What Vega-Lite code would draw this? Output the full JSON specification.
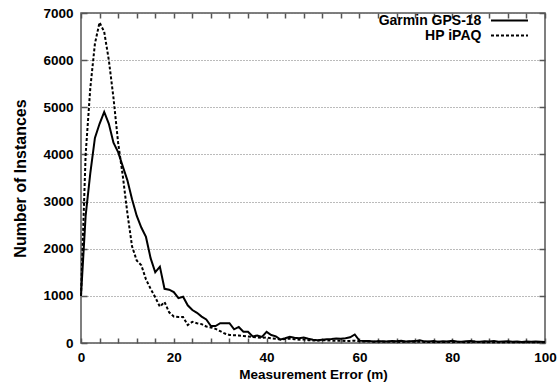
{
  "$schema": "https://vega.github.io/schema/vega-lite/v6.json",
  "width": 464,
  "height": 330,
  "autosize": "none",
  "padding": {"left": 81, "top": 13, "right": 14, "bottom": 47},
  "config": {
    "view": {"stroke": "#555555", "strokeWidth": 1.5},
    "font": "Liberation Sans",
    "axis": {
      "labelFont": "Liberation Sans",
      "labelFontWeight": "bold",
      "labelFontSize": 13.5,
      "labelColor": "#000000",
      "labelFlush": false,
      "titleFont": "Liberation Sans",
      "titleFontWeight": "bold",
      "titleFontSize": 13.5,
      "titleColor": "#000000",
      "domain": false,
      "ticks": true,
      "tickColor": "#555555",
      "tickWidth": 1.5
    },
    "legend": {
      "labelFont": "Liberation Sans",
      "labelFontWeight": "bold",
      "labelFontSize": 14,
      "labelColor": "#000000"
    }
  },
  "data": {
    "values": [
      {"x":0,"n":1000,"s":"Garmin GPS-18"},{"x":1,"n":2700,"s":"Garmin GPS-18"},{"x":2,"n":3600,"s":"Garmin GPS-18"},{"x":3,"n":4350,"s":"Garmin GPS-18"},{"x":4,"n":4650,"s":"Garmin GPS-18"},{"x":5,"n":4900,"s":"Garmin GPS-18"},{"x":6,"n":4650,"s":"Garmin GPS-18"},{"x":7,"n":4250,"s":"Garmin GPS-18"},{"x":8,"n":4050,"s":"Garmin GPS-18"},{"x":9,"n":3750,"s":"Garmin GPS-18"},
      {"x":10,"n":3450,"s":"Garmin GPS-18"},{"x":11,"n":3050,"s":"Garmin GPS-18"},{"x":12,"n":2700,"s":"Garmin GPS-18"},{"x":13,"n":2450,"s":"Garmin GPS-18"},{"x":14,"n":2250,"s":"Garmin GPS-18"},{"x":15,"n":1800,"s":"Garmin GPS-18"},{"x":16,"n":1500,"s":"Garmin GPS-18"},{"x":17,"n":1620,"s":"Garmin GPS-18"},{"x":18,"n":1150,"s":"Garmin GPS-18"},{"x":19,"n":1130,"s":"Garmin GPS-18"},
      {"x":20,"n":1080,"s":"Garmin GPS-18"},{"x":21,"n":950,"s":"Garmin GPS-18"},{"x":22,"n":980,"s":"Garmin GPS-18"},{"x":23,"n":800,"s":"Garmin GPS-18"},{"x":24,"n":700,"s":"Garmin GPS-18"},{"x":25,"n":640,"s":"Garmin GPS-18"},{"x":26,"n":560,"s":"Garmin GPS-18"},{"x":27,"n":500,"s":"Garmin GPS-18"},{"x":28,"n":360,"s":"Garmin GPS-18"},{"x":29,"n":360,"s":"Garmin GPS-18"},
      {"x":30,"n":420,"s":"Garmin GPS-18"},{"x":31,"n":420,"s":"Garmin GPS-18"},{"x":32,"n":420,"s":"Garmin GPS-18"},{"x":33,"n":290,"s":"Garmin GPS-18"},{"x":34,"n":340,"s":"Garmin GPS-18"},{"x":35,"n":240,"s":"Garmin GPS-18"},{"x":36,"n":240,"s":"Garmin GPS-18"},{"x":37,"n":140,"s":"Garmin GPS-18"},{"x":38,"n":160,"s":"Garmin GPS-18"},{"x":39,"n":130,"s":"Garmin GPS-18"},
      {"x":40,"n":235,"s":"Garmin GPS-18"},{"x":41,"n":170,"s":"Garmin GPS-18"},{"x":42,"n":140,"s":"Garmin GPS-18"},{"x":43,"n":75,"s":"Garmin GPS-18"},{"x":44,"n":100,"s":"Garmin GPS-18"},{"x":45,"n":130,"s":"Garmin GPS-18"},{"x":46,"n":110,"s":"Garmin GPS-18"},{"x":47,"n":100,"s":"Garmin GPS-18"},{"x":48,"n":115,"s":"Garmin GPS-18"},{"x":49,"n":90,"s":"Garmin GPS-18"},
      {"x":50,"n":70,"s":"Garmin GPS-18"},{"x":51,"n":60,"s":"Garmin GPS-18"},{"x":52,"n":70,"s":"Garmin GPS-18"},{"x":53,"n":80,"s":"Garmin GPS-18"},{"x":54,"n":85,"s":"Garmin GPS-18"},{"x":55,"n":95,"s":"Garmin GPS-18"},{"x":56,"n":90,"s":"Garmin GPS-18"},{"x":57,"n":100,"s":"Garmin GPS-18"},{"x":58,"n":120,"s":"Garmin GPS-18"},{"x":59,"n":180,"s":"Garmin GPS-18"},
      {"x":60,"n":50,"s":"Garmin GPS-18"},{"x":61,"n":40,"s":"Garmin GPS-18"},{"x":62,"n":45,"s":"Garmin GPS-18"},{"x":63,"n":30,"s":"Garmin GPS-18"},{"x":64,"n":35,"s":"Garmin GPS-18"},{"x":65,"n":35,"s":"Garmin GPS-18"},{"x":66,"n":30,"s":"Garmin GPS-18"},{"x":67,"n":40,"s":"Garmin GPS-18"},{"x":68,"n":35,"s":"Garmin GPS-18"},{"x":69,"n":45,"s":"Garmin GPS-18"},
      {"x":70,"n":30,"s":"Garmin GPS-18"},{"x":71,"n":35,"s":"Garmin GPS-18"},{"x":72,"n":40,"s":"Garmin GPS-18"},{"x":73,"n":60,"s":"Garmin GPS-18"},{"x":74,"n":35,"s":"Garmin GPS-18"},{"x":75,"n":30,"s":"Garmin GPS-18"},{"x":76,"n":40,"s":"Garmin GPS-18"},{"x":77,"n":25,"s":"Garmin GPS-18"},{"x":78,"n":35,"s":"Garmin GPS-18"},{"x":79,"n":30,"s":"Garmin GPS-18"},
      {"x":80,"n":45,"s":"Garmin GPS-18"},{"x":81,"n":30,"s":"Garmin GPS-18"},{"x":82,"n":25,"s":"Garmin GPS-18"},{"x":83,"n":35,"s":"Garmin GPS-18"},{"x":84,"n":40,"s":"Garmin GPS-18"},{"x":85,"n":30,"s":"Garmin GPS-18"},{"x":86,"n":25,"s":"Garmin GPS-18"},{"x":87,"n":35,"s":"Garmin GPS-18"},{"x":88,"n":30,"s":"Garmin GPS-18"},{"x":89,"n":40,"s":"Garmin GPS-18"},
      {"x":90,"n":25,"s":"Garmin GPS-18"},{"x":91,"n":30,"s":"Garmin GPS-18"},{"x":92,"n":35,"s":"Garmin GPS-18"},{"x":93,"n":25,"s":"Garmin GPS-18"},{"x":94,"n":30,"s":"Garmin GPS-18"},{"x":95,"n":20,"s":"Garmin GPS-18"},{"x":96,"n":30,"s":"Garmin GPS-18"},{"x":97,"n":25,"s":"Garmin GPS-18"},{"x":98,"n":30,"s":"Garmin GPS-18"},{"x":99,"n":25,"s":"Garmin GPS-18"},
      {"x":100,"n":20,"s":"Garmin GPS-18"},
      {"x":0,"n":1000,"s":"HP iPAQ"},{"x":1,"n":4000,"s":"HP iPAQ"},{"x":2,"n":5400,"s":"HP iPAQ"},{"x":3,"n":6350,"s":"HP iPAQ"},{"x":4,"n":6800,"s":"HP iPAQ"},{"x":5,"n":6600,"s":"HP iPAQ"},{"x":6,"n":6000,"s":"HP iPAQ"},{"x":7,"n":5200,"s":"HP iPAQ"},{"x":8,"n":4250,"s":"HP iPAQ"},{"x":9,"n":3550,"s":"HP iPAQ"},
      {"x":10,"n":2750,"s":"HP iPAQ"},{"x":11,"n":2050,"s":"HP iPAQ"},{"x":12,"n":1750,"s":"HP iPAQ"},{"x":13,"n":1650,"s":"HP iPAQ"},{"x":14,"n":1350,"s":"HP iPAQ"},{"x":15,"n":1150,"s":"HP iPAQ"},{"x":16,"n":970,"s":"HP iPAQ"},{"x":17,"n":770,"s":"HP iPAQ"},{"x":18,"n":870,"s":"HP iPAQ"},{"x":19,"n":650,"s":"HP iPAQ"},
      {"x":20,"n":560,"s":"HP iPAQ"},{"x":21,"n":550,"s":"HP iPAQ"},{"x":22,"n":550,"s":"HP iPAQ"},{"x":23,"n":380,"s":"HP iPAQ"},{"x":24,"n":450,"s":"HP iPAQ"},{"x":25,"n":420,"s":"HP iPAQ"},{"x":26,"n":400,"s":"HP iPAQ"},{"x":27,"n":350,"s":"HP iPAQ"},{"x":28,"n":330,"s":"HP iPAQ"},{"x":29,"n":300,"s":"HP iPAQ"},
      {"x":30,"n":250,"s":"HP iPAQ"},{"x":31,"n":200,"s":"HP iPAQ"},{"x":32,"n":170,"s":"HP iPAQ"},{"x":33,"n":165,"s":"HP iPAQ"},{"x":34,"n":160,"s":"HP iPAQ"},{"x":35,"n":150,"s":"HP iPAQ"},{"x":36,"n":140,"s":"HP iPAQ"},{"x":37,"n":130,"s":"HP iPAQ"},{"x":38,"n":120,"s":"HP iPAQ"},{"x":39,"n":110,"s":"HP iPAQ"},
      {"x":40,"n":115,"s":"HP iPAQ"},{"x":41,"n":100,"s":"HP iPAQ"},{"x":42,"n":90,"s":"HP iPAQ"},{"x":43,"n":70,"s":"HP iPAQ"},{"x":44,"n":85,"s":"HP iPAQ"},{"x":45,"n":95,"s":"HP iPAQ"},{"x":46,"n":80,"s":"HP iPAQ"},{"x":47,"n":70,"s":"HP iPAQ"},{"x":48,"n":75,"s":"HP iPAQ"},{"x":49,"n":60,"s":"HP iPAQ"},
      {"x":50,"n":55,"s":"HP iPAQ"},{"x":51,"n":50,"s":"HP iPAQ"},{"x":52,"n":60,"s":"HP iPAQ"},{"x":53,"n":55,"s":"HP iPAQ"},{"x":54,"n":50,"s":"HP iPAQ"},{"x":55,"n":45,"s":"HP iPAQ"},{"x":56,"n":50,"s":"HP iPAQ"},{"x":57,"n":40,"s":"HP iPAQ"},{"x":58,"n":45,"s":"HP iPAQ"},{"x":59,"n":50,"s":"HP iPAQ"},
      {"x":60,"n":35,"s":"HP iPAQ"},{"x":61,"n":30,"s":"HP iPAQ"},{"x":62,"n":35,"s":"HP iPAQ"},{"x":63,"n":25,"s":"HP iPAQ"},{"x":64,"n":30,"s":"HP iPAQ"},{"x":65,"n":25,"s":"HP iPAQ"},{"x":66,"n":30,"s":"HP iPAQ"},{"x":67,"n":25,"s":"HP iPAQ"},{"x":68,"n":30,"s":"HP iPAQ"},{"x":69,"n":20,"s":"HP iPAQ"},
      {"x":70,"n":25,"s":"HP iPAQ"},{"x":71,"n":30,"s":"HP iPAQ"},{"x":72,"n":25,"s":"HP iPAQ"},{"x":73,"n":30,"s":"HP iPAQ"},{"x":74,"n":20,"s":"HP iPAQ"},{"x":75,"n":25,"s":"HP iPAQ"},{"x":76,"n":20,"s":"HP iPAQ"},{"x":77,"n":25,"s":"HP iPAQ"},{"x":78,"n":20,"s":"HP iPAQ"},{"x":79,"n":25,"s":"HP iPAQ"},
      {"x":80,"n":20,"s":"HP iPAQ"},{"x":81,"n":25,"s":"HP iPAQ"},{"x":82,"n":20,"s":"HP iPAQ"},{"x":83,"n":15,"s":"HP iPAQ"},{"x":84,"n":20,"s":"HP iPAQ"},{"x":85,"n":25,"s":"HP iPAQ"},{"x":86,"n":20,"s":"HP iPAQ"},{"x":87,"n":15,"s":"HP iPAQ"},{"x":88,"n":20,"s":"HP iPAQ"},{"x":89,"n":15,"s":"HP iPAQ"},
      {"x":90,"n":20,"s":"HP iPAQ"},{"x":91,"n":15,"s":"HP iPAQ"},{"x":92,"n":20,"s":"HP iPAQ"},{"x":93,"n":15,"s":"HP iPAQ"},{"x":94,"n":20,"s":"HP iPAQ"},{"x":95,"n":15,"s":"HP iPAQ"},{"x":96,"n":20,"s":"HP iPAQ"},{"x":97,"n":15,"s":"HP iPAQ"},{"x":98,"n":15,"s":"HP iPAQ"},{"x":99,"n":20,"s":"HP iPAQ"},
      {"x":100,"n":15,"s":"HP iPAQ"}
    ]
  },
  "layer": [
    {
      "transform": [{"filter": "datum.s === 'Garmin GPS-18'"}],
      "mark": {"type": "line", "strokeWidth": 2},
      "encoding": {
        "x": {
          "field": "x", "type": "quantitative",
          "scale": {"domain": [0, 100], "nice": false, "zero": false},
          "axis": {
            "orient": "bottom",
            "title": "Measurement Error (m)",
            "values": [0,4,8,12,16,20,24,28,32,36,40,44,48,52,56,60,64,68,72,76,80,84,88,92,96,100],
            "labelExpr": "datum.value % 20 === 0 ? datum.label : ''",
            "tickSize": -5,
            "labelPadding": 12,
            "titlePadding": 4,
            "grid": false
          }
        },
        "y": {
          "field": "n", "type": "quantitative",
          "scale": {"domain": [0, 7000], "nice": false},
          "axis": {
            "orient": "left",
            "title": "Number of Instances",
            "titleFontSize": 16,
            "format": "d",
            "values": [0,1000,2000,3000,4000,5000,6000,7000],
            "tickSize": -6,
            "labelPadding": 14,
            "titlePadding": 14,
            "grid": true,
            "gridColor": "#777777",
            "gridDash": [1, 2],
            "gridWidth": 1
          }
        },
        "color": {
          "field": "s", "type": "nominal",
          "scale": {"domain": ["Garmin GPS-18", "HP iPAQ"], "range": ["#000000", "#000000"]},
          "legend": {
            "title": null,
            "orient": "none",
            "legendX": 421,
            "legendY": 0,
            "padding": 0,
            "symbolType": "M-3,0L3,0",
            "symbolStrokeWidth": 2,
            "symbolStrokeColor": "#000000",
            "symbolFillColor": "transparent",
            "symbolSize": 152,
            "rowPadding": 0,
            "labelAlign": "right",
            "labelOffset": -35.6,
            "encode": {
              "symbols": {
                "update": {
                  "strokeDash": {"signal": "datum.value === 'HP iPAQ' ? [3, 2] : []"},
                  "stroke": {"value": "#000000"},
                  "fill": {"value": "transparent"}
                }
              }
            }
          }
        }
      }
    },
    {
      "transform": [{"filter": "datum.s === 'HP iPAQ'"}],
      "mark": {"type": "line", "strokeWidth": 2, "strokeDash": [3, 2]},
      "encoding": {
        "x": {
          "field": "x", "type": "quantitative",
          "axis": {
            "orient": "top",
            "title": null,
            "values": [0,4,8,12,16,20,24,28,32,36,40,44,48,52,56,60,64,68,72,76,80,84,88,92,96,100],
            "labels": false,
            "tickSize": -5,
            "grid": false
          }
        },
        "y": {
          "field": "n", "type": "quantitative",
          "axis": {
            "orient": "right",
            "title": null,
            "values": [0,1000,2000,3000,4000,5000,6000,7000],
            "labels": false,
            "tickSize": -6,
            "grid": false
          }
        },
        "color": {"field": "s", "type": "nominal"}
      }
    }
  ]
}
